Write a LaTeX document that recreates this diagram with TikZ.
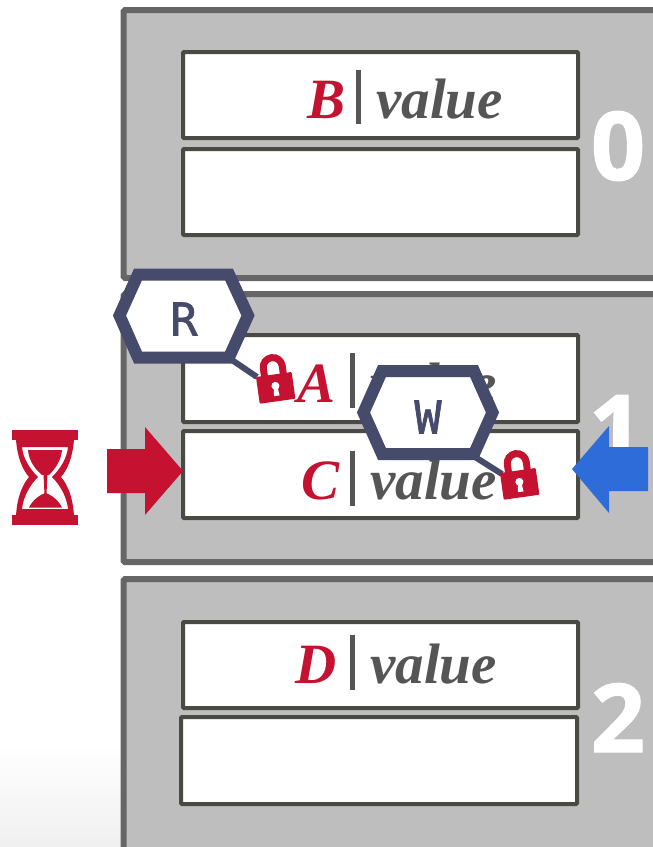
\documentclass[tikz,border=0pt]{standalone}
\usepackage{fontspec}
\setmainfont{Liberation Serif}
\newfontfamily\numfont[FakeBold=1.2]{Open Sans Bold}
\newfontfamily\latchfont[FakeBold=1.6]{DejaVu Sans Mono}
\usetikzlibrary{calc}
\definecolor{crim}{HTML}{C41230}
\definecolor{slatec}{HTML}{464A6B}
\definecolor{groupfill}{HTML}{BEBEBE}
\definecolor{groupline}{HTML}{666666}
\definecolor{boxline}{HTML}{4A4A45}
\definecolor{valgray}{HTML}{555555}
\definecolor{bluearrow}{HTML}{2E6DD9}
\tikzset{
  partgroup/.style={draw=groupline,fill=groupfill,line width=6pt,rounded corners=1.5pt},
  slotbox/.style={draw=boxline,fill=white,line width=4pt,rounded corners=1pt},
  keyletter/.style={inner sep=0pt,anchor=base west,text=crim,font=\fontsize{57}{57}\selectfont\bfseries\itshape},
  valtext/.style={inner sep=0pt,anchor=base west,text=valgray,font=\fontsize{57}{57}\selectfont\bfseries\itshape},
  sepbar/.style={draw=valgray,line width=5pt},
  partnum/.style={inner sep=0pt,anchor=base,text=white,font=\fontsize{95}{95}\selectfont\numfont},
  latchhex/.style={draw=slatec,fill=white,line width=12pt,line join=miter},
  latchlink/.style={draw=slatec,line width=6pt},
  latchletter/.style={inner sep=0pt,text=slatec,font=\fontsize{45}{45}\selectfont\latchfont},
  padlock/.pic={
    \draw[crim,line width=7pt] (8.5,1) -- (8.5,-7.5) arc[start angle=180,end angle=360,radius=9.5] -- (27.5,1);
    \fill[crim,rounded corners=1pt] (0,0) rectangle (36,27);
    \fill[white] (18,11.5) circle[radius=4];
    \fill[white] (16.2,12) -- (19.8,12) -- (20.8,21.5) -- (15.2,21.5) -- cycle;
  }
}
\begin{document}
\begin{tikzpicture}[x=1pt,y=-1pt]
\useasboundingbox (0,0) rectangle (653,847);
\shade[top color=white,bottom color=black!6] (0,745) rectangle (653,847);
% partition groups
\draw[partgroup] (123.5,10) rectangle (670,278);
\draw[partgroup] (123.5,294) rectangle (670,562);
\draw[partgroup] (123.5,579) rectangle (670,870);
% numbers
\node[partnum] (n0) at (618,180) {0};
\node[partnum] (n1) at (616,463) {1};
\node[partnum] (n2) at (618,752) {2};
% slots
\draw[slotbox] (183,52) rectangle (578,138);
\draw[slotbox] (183,149) rectangle (578,235);
\draw[slotbox] (183,335) rectangle (578,422);
\draw[slotbox] (183,431) rectangle (578,518);
\draw[slotbox] (183,622) rectangle (578,708);
\draw[slotbox] (181,717) rectangle (577,804);
% slot texts
\node[keyletter] (kb) at (307,118) {B};
\draw[sepbar] (358,70) -- (358,124);
\node[valtext] (vb) at (376,118) {value};
\node[keyletter] (ka) at (297,402) {A};
\draw[sepbar] (352,353) -- (352,408);
\node[valtext] (va) at (370,402) {value};
\node[keyletter] (kc) at (301,499) {C};
\draw[sepbar] (352,451) -- (352,506);
\node[valtext] (vc) at (370,499) {value};
\node[keyletter] (kd) at (295,683) {D};
\draw[sepbar] (352,635) -- (352,690);
\node[valtext] (vd) at (370,683) {value};
% arrows
\fill[crim] (107,449) -- (145,449) -- (145,427) -- (183,471) -- (145,515) -- (145,493) -- (107,493) -- cycle;
\fill[bluearrow] (648,447) -- (609,447) -- (609,426) -- (572,469) -- (609,513) -- (609,491) -- (648,491) -- cycle;
% hourglass
\fill[crim] (12,430) rectangle (78,440);
\fill[crim] (12,515) rectangle (78,525);
\fill[crim,even odd rule]
  (16,439) .. controls (17,456) and (22,469) .. (29,477) .. controls (22,485) and (17,498) .. (16,516)
  -- (74,516) .. controls (73,498) and (68,485) .. (61,477) .. controls (68,469) and (73,456) .. (74,439) -- cycle
  (22,447) .. controls (23,458) and (29,468) .. (38,477) .. controls (29,486) and (23,498) .. (22,509)
  -- (68,509) .. controls (67,498) and (61,486) .. (52,477) .. controls (61,468) and (67,458) .. (68,447) -- cycle;
\fill[crim] (28,450) -- (62,450) .. controls (61,461) and (55,469) .. (49,475) -- (42,475) .. controls (35,469) and (29,461) .. (28,450) -- cycle;
\fill[crim] (43.5,474) -- (47.5,474) -- (46.5,494) -- (44.5,494) -- cycle;
\fill[crim] (29,507.5) .. controls (32,501) and (39,495) .. (45.5,493) .. controls (52,495) and (59,501) .. (62,507.5) -- cycle;
% R latch
\coordinate (rlink) at (232,360);
\coordinate (rlock) at (257,377);
\draw[latchlink] (rlink) -- (rlock);
\draw[latchhex] (119.5,315.5) -- (138,274.5) -- (229,274.5) -- (248,315.5) -- (229,357.5) -- (138,357.5) -- cycle;
\node[latchletter] (rl) at (184,319) {R};
\pic[rotate=8] at (256,377) {padlock};
% W latch
\coordinate (wlink) at (475,457);
\coordinate (wlock) at (502,474);
\draw[latchlink] (wlink) -- (wlock);
\draw[latchhex] (363.5,412.5) -- (382,371) -- (474,371) -- (492.5,412.5) -- (474,454) -- (382,454) -- cycle;
\node[latchletter] (wl) at (428,417) {W};
\pic[rotate=8] at (500,473) {padlock};
\end{tikzpicture}
\end{document}
